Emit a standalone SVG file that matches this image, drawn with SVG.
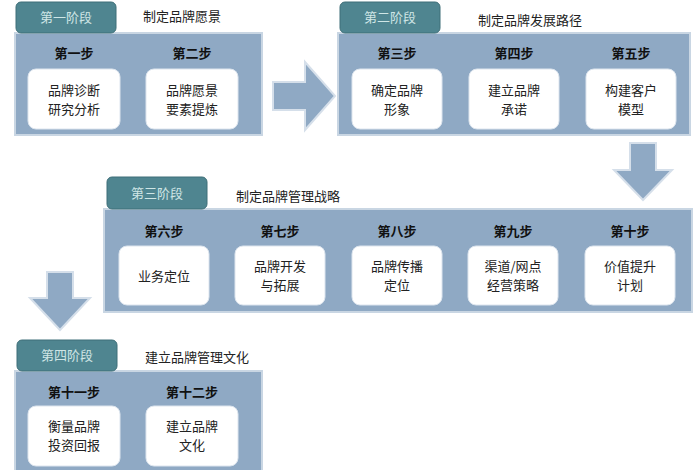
<svg xmlns="http://www.w3.org/2000/svg" width="700" height="470" viewBox="0 0 700 470">
<style>
text{font-family:"Noto Sans CJK SC",sans-serif;}
.tab{fill:#4f8590;stroke:#3f6f78;stroke-width:1}
.tabt{fill:#cfe6e6;font-size:13px;text-anchor:middle}
.title{fill:#222;font-size:13px}
.panel{fill:#8fa9c4;stroke:#c9d6e3;stroke-width:2}
.step{fill:#111;font-size:13px;font-weight:bold;text-anchor:middle}
.box{fill:#fff;stroke:#dde5ee;stroke-width:1}
.bt{fill:#222;font-size:13px;text-anchor:middle}
.arr{fill:#8fa9c4;stroke:#d5dfea;stroke-width:2}
</style>
<rect width="700" height="470" fill="#fff"/>
<g id="connectors">
<polygon class="arr" points="273,82 305,82 305,62 335,96 305,130 305,110 273,110"/>
<polygon class="arr" points="630,143 656,143 656,170 672,170 643,200 614,170 630,170"/>
<polygon class="arr" points="47,272 73,272 73,298 90,298 60,330 30,298 47,298"/>
</g>
<g id="stage1">
<rect class="panel" x="15" y="33" width="247" height="102"/>
<rect class="tab" x="16" y="2" width="100" height="31" rx="5"/>
<text class="tabt" x="66" y="22">第一阶段</text>
<text class="title" x="143" y="21">制定品牌愿景</text>
<text class="step" x="74" y="58">第一步</text>
<text class="step" x="192" y="58">第二步</text>
<rect class="box" x="28" y="69" width="92" height="60" rx="8"/>
<text class="bt" x="74" y="95">品牌诊断</text><text class="bt" x="74" y="114">研究分析</text>
<rect class="box" x="146" y="69" width="92" height="60" rx="8"/>
<text class="bt" x="192" y="95">品牌愿景</text><text class="bt" x="192" y="114">要素提炼</text>
</g>
<g id="stage2">
<rect class="panel" x="338" y="33" width="352" height="102"/>
<rect class="tab" x="340" y="2" width="100" height="31" rx="5"/>
<text class="tabt" x="390" y="22">第二阶段</text>
<text class="title" x="478" y="25">制定品牌发展路径</text>
<text class="step" x="397" y="58">第三步</text>
<text class="step" x="514" y="58">第四步</text>
<text class="step" x="631" y="58">第五步</text>
<rect class="box" x="352" y="69" width="90" height="60" rx="8"/>
<text class="bt" x="397" y="95">确定品牌</text><text class="bt" x="397" y="114">形象</text>
<rect class="box" x="469" y="69" width="90" height="60" rx="8"/>
<text class="bt" x="514" y="95">建立品牌</text><text class="bt" x="514" y="114">承诺</text>
<rect class="box" x="586" y="69" width="90" height="60" rx="8"/>
<text class="bt" x="631" y="95">构建客户</text><text class="bt" x="631" y="114">模型</text>
</g>
<g id="stage3">
<rect class="panel" x="104" y="209" width="588" height="103"/>
<rect class="tab" x="107" y="177" width="100" height="32" rx="5"/>
<text class="tabt" x="157" y="198">第三阶段</text>
<text class="title" x="236" y="201">制定品牌管理战略</text>
<text class="step" x="164" y="236">第六步</text>
<text class="step" x="280" y="236">第七步</text>
<text class="step" x="397" y="236">第八步</text>
<text class="step" x="513" y="236">第九步</text>
<text class="step" x="630" y="236">第十步</text>
<rect class="box" x="119" y="246" width="90" height="59" rx="8"/>
<text class="bt" x="164" y="281">业务定位</text>
<rect class="box" x="235" y="246" width="90" height="59" rx="8"/>
<text class="bt" x="280" y="271">品牌开发</text><text class="bt" x="280" y="290">与拓展</text>
<rect class="box" x="352" y="246" width="90" height="59" rx="8"/>
<text class="bt" x="397" y="271">品牌传播</text><text class="bt" x="397" y="290">定位</text>
<rect class="box" x="468" y="246" width="90" height="59" rx="8"/>
<text class="bt" x="513" y="271">渠道/网点</text><text class="bt" x="513" y="290">经营策略</text>
<rect class="box" x="585" y="246" width="90" height="59" rx="8"/>
<text class="bt" x="630" y="271">价值提升</text><text class="bt" x="630" y="290">计划</text>
</g>
<g id="stage4">
<rect class="panel" x="15" y="371" width="247" height="101"/>
<rect class="tab" x="17" y="340" width="100" height="31" rx="5"/>
<text class="tabt" x="67" y="360">第四阶段</text>
<text class="title" x="145" y="362">建立品牌管理文化</text>
<text class="step" x="74" y="397">第十一步</text>
<text class="step" x="192" y="397">第十二步</text>
<rect class="box" x="28" y="406" width="92" height="60" rx="8"/>
<text class="bt" x="74" y="431">衡量品牌</text><text class="bt" x="74" y="450">投资回报</text>
<rect class="box" x="146" y="406" width="92" height="60" rx="8"/>
<text class="bt" x="192" y="431">建立品牌</text><text class="bt" x="192" y="450">文化</text>
</g>
</svg>
